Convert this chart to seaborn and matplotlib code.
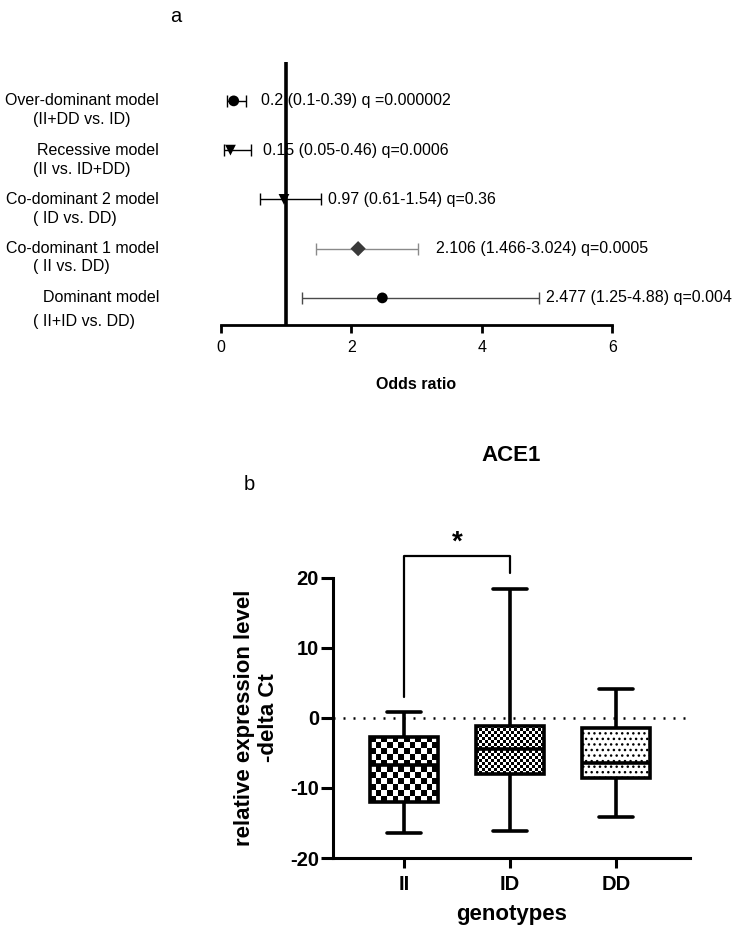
import numpy as np
import pandas as pd
import matplotlib
matplotlib.use("Agg")
import matplotlib.pyplot as plt
import seaborn as sns

# ---- panel a: odds ratios of the genetic models
models = ["Over-dominant model", "Recessive model", "Co-dominant 2 model",
          "Co-dominant 1 model", "Dominant model"]
comparisons = ["(II+DD vs. ID)", "(II vs. ID+DD)", "( ID vs. DD)",
               "( II vs. DD)", "( II+ID vs. DD)"]
odds = [0.2, 0.15, 0.97, 2.106, 2.477]
ci_low = [0.1, 0.05, 0.61, 1.466, 1.25]
ci_high = [0.39, 0.46, 1.54, 3.024, 4.88]
or_text = ["0.2 (0.1-0.39) q =0.000002", "0.15 (0.05-0.46) q=0.0006",
           "0.97 (0.61-1.54) q=0.36", "2.106 (1.466-3.024) q=0.0005",
           "2.477 (1.25-4.88) q=0.004"]

# ---- panel b: ACE1 expression by genotype (box summary)
genotypes = ["II", "ID", "DD"]
exp_min = [-16.4, -16.1, -14.2]
exp_q1 = [-12.05, -8.0, -8.6]
exp_med = [-6.7, -4.4, -6.4]
exp_q3 = [-2.7, -1.1, -1.4]
exp_max = [0.9, 18.4, 4.1]

# styles
marker_shapes = ["o", "v", "v", "D", "o"]
marker_colors = ["black", "black", "black", "#3a3a3a", "black"]
bar_colors = ["black", "black", "black", "#8a8a8a", "#4a4a4a"]
text_gap = [11, 9, 5, 13, 5]  # pt after the upper CI cap
sub_dy = [-13.7, -13.7, -13.7, -13.0, -17.3]

sns.set_style("ticks")
plt.rcParams["font.family"] = ["Liberation Sans", "DejaVu Sans"]
plt.rcParams.update({
    "axes.unicode_minus": False,
    "text.color": "black",
    "axes.labelcolor": "black",
    "axes.edgecolor": "black",
    "xtick.color": "black",
    "ytick.color": "black",
})

fig = plt.figure(figsize=(7.46, 9.39), dpi=100)

# ================= panel a =================
ax1 = fig.add_axes([0.2958, 0.6539, 0.5249, 0.2801])
rows = np.arange(len(models))
for i in rows:
    ax1.errorbar(odds[i], i, xerr=[[odds[i] - ci_low[i]], [ci_high[i] - odds[i]]],
                 fmt="none", ecolor=bar_colors[i], elinewidth=1.0, capsize=4.5,
                 capthick=1.0, zorder=2)
sns.scatterplot(x=odds, y=rows, hue=models, style=models, markers=marker_shapes,
                palette=marker_colors, s=60, linewidth=0, legend=False, ax=ax1,
                zorder=3)
ax1.axvline(1, color="black", lw=2.6, zorder=4)

for i in rows:
    ax1.annotate(or_text[i], xy=(ci_high[i], i), xytext=(text_gap[i], 0),
                 textcoords="offset points", va="center", ha="left", fontsize=11.5)
    ax1.annotate(models[i], xy=(0, i), xycoords=("axes fraction", "data"),
                 xytext=(-44.4, 0), textcoords="offset points",
                 ha="right", va="center", fontsize=11.5, annotation_clip=False)
    ax1.annotate(comparisons[i], xy=(0, i), xycoords=("axes fraction", "data"),
                 xytext=(-135, sub_dy[i]), textcoords="offset points",
                 ha="left", va="center", fontsize=11.5, annotation_clip=False)

ax1.set_xlim(0, 6)
ax1.set_ylim(4.55, -0.79)
ax1.set_xticks([0, 2, 4, 6])
ax1.set_yticks([])
for s in ["top", "right", "left"]:
    ax1.spines[s].set_visible(False)
ax1.spines["bottom"].set_linewidth(2)
ax1.tick_params(axis="x", length=6, width=2, pad=5, labelsize=11.5)
ax1.set_xlabel("Odds ratio", fontsize=11.5, fontweight="bold", labelpad=16)

# ================= panel b =================
ax2 = fig.add_axes([0.4464, 0.08626, 0.4786, 0.2982])
long = pd.DataFrame({
    "genotype": np.repeat(genotypes, 5),
    "value": np.ravel(np.column_stack([exp_min, exp_q1, exp_med, exp_q3, exp_max])),
})
ax2.axhline(0, color="black", lw=1.8, ls=(0, (0.8, 3.2)), zorder=0.5)
sns.boxplot(data=long, x="genotype", y="value", order=genotypes, whis=(0, 100),
            width=0.64, color="white", linecolor="black", linewidth=2.6,
            showfliers=False, ax=ax2)

ax2.set_xlim(-0.67, 2.70)
ax2.set_ylim(-20, 20)

# box fills: coarse checker, fine checker, dots
cells_px = [5.8, 3.0, None]
for patch, cell in zip(ax2.patches, cells_px):
    if cell is None:
        patch.set_facecolor("white")
        patch.set_hatch("...")
        continue
    ext = patch.get_path().get_extents()
    (px0, py0), (px1, py1) = ax2.transData.transform([[ext.x0, ext.y0], [ext.x1, ext.y1]])
    ncol = max(1, int(round(abs(px1 - px0) / cell)))
    nrow = max(1, int(round(abs(py1 - py0) / cell)))
    board = np.add.outer(np.arange(nrow), np.arange(ncol)) % 2
    im = ax2.imshow(board, cmap="gray", extent=(ext.x0, ext.x1, ext.y0, ext.y1),
                    aspect="auto", interpolation="nearest", zorder=patch.get_zorder() - 0.1)
    im.set_clip_path(patch)
    patch.set_facecolor("none")

ax2.set_xlim(-0.67, 2.70)
ax2.set_ylim(-20, 20)

# significance bracket II vs ID
ax2.plot([0, 0, 1, 1], [3.0, 23.1, 23.1, 20.7], color="black", lw=1.6, clip_on=False)
ax2.text(0.5, 25.0, "*", ha="center", va="center", fontsize=20, fontweight="bold")

ax2.set_yticks([-20, -10, 0, 10, 20])
for s in ["top", "right"]:
    ax2.spines[s].set_visible(False)
for s in ["left", "bottom"]:
    ax2.spines[s].set_linewidth(2.2)
ax2.tick_params(axis="y", length=8.6, width=2.2, pad=1.5, labelsize=14.5)
ax2.tick_params(axis="x", length=7.2, width=2.2, pad=5, labelsize=14.5)
for lab in ax2.get_xticklabels() + ax2.get_yticklabels():
    lab.set_fontweight("bold")
ax2.set_xlabel("genotypes", fontsize=16, fontweight="bold", labelpad=7)
ax2.set_ylabel("relative expression level\n-delta Ct", fontsize=16,
               fontweight="bold", labelpad=8)
ax2.set_title("ACE1", fontsize=16, fontweight="bold", pad=84)

fig.text(0.236, 0.982, "a", fontsize=14.5, ha="center", va="center")
fig.text(0.334, 0.4835, "b", fontsize=14.5, ha="center", va="center")

fig.savefig("out.png", dpi=100)
